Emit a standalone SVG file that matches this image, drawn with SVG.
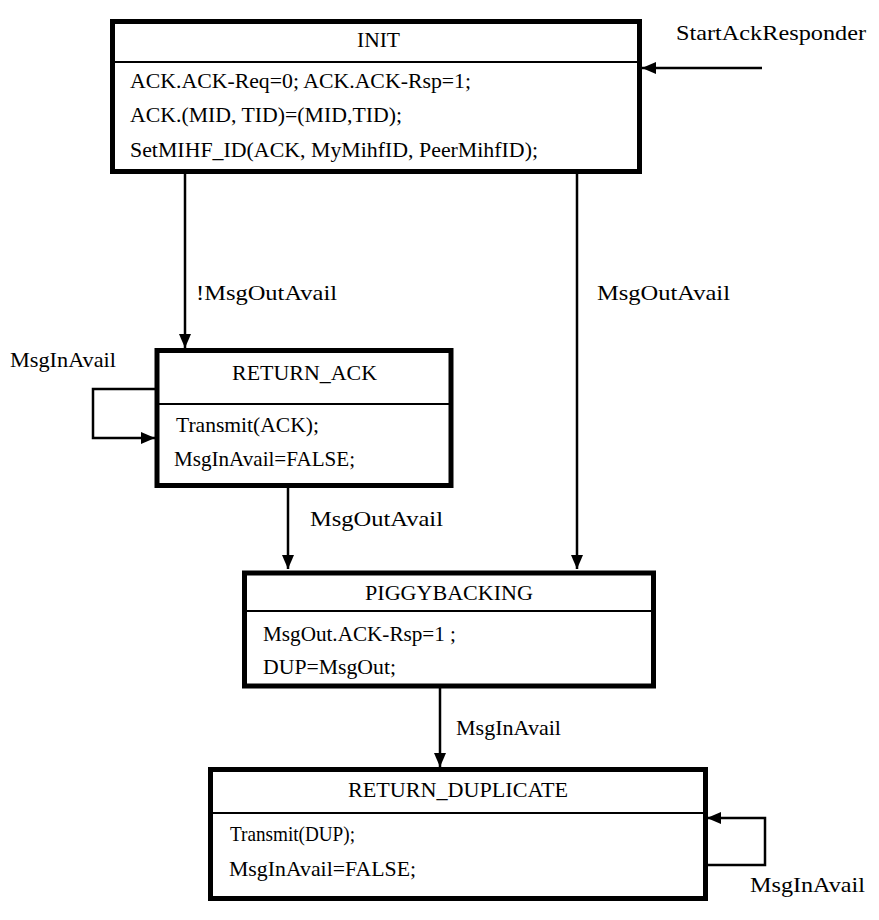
<svg xmlns="http://www.w3.org/2000/svg" width="879" height="920" viewBox="0 0 879 920" font-family="Liberation Serif, Times New Roman, DejaVu Serif, serif" font-size="21">
<defs>
<marker id="ah" markerWidth="14" markerHeight="12" refX="14" refY="6" orient="auto" markerUnits="userSpaceOnUse">
<path d="M0,0 L14,6 L0,12 Z" fill="#000"/>
</marker>
<style>
.box{fill:#fff;stroke:#000;stroke-width:5}
.div{stroke:#000;stroke-width:2}
.e{fill:none;stroke:#000;stroke-width:2.5}
</style>
</defs>
<rect width="879" height="920" fill="#fff"/>
<g id="connectors">
<path class="e" d="M762,68 H642" marker-end="url(#ah)"/>
<path class="e" d="M185,174 V348" marker-end="url(#ah)"/>
<path class="e" d="M577,174 V569" marker-end="url(#ah)"/>
<path class="e" d="M155,389 H93 V438 H155" marker-end="url(#ah)"/>
<path class="e" d="M288,488 V569" marker-end="url(#ah)"/>
<path class="e" d="M440,688 V767" marker-end="url(#ah)"/>
<path class="e" d="M707,865 H765 V818 H707" marker-end="url(#ah)"/>
<text x="676" y="40" textLength="190" lengthAdjust="spacingAndGlyphs">StartAckResponder</text>
<text x="196" y="300" textLength="141" lengthAdjust="spacingAndGlyphs">!MsgOutAvail</text>
<text x="597" y="300" textLength="133" lengthAdjust="spacingAndGlyphs">MsgOutAvail</text>
<text x="10" y="367" textLength="106" lengthAdjust="spacingAndGlyphs">MsgInAvail</text>
<text x="310" y="526" textLength="133" lengthAdjust="spacingAndGlyphs">MsgOutAvail</text>
<text x="456" y="735" textLength="105" lengthAdjust="spacingAndGlyphs">MsgInAvail</text>
<text x="750" y="892" textLength="115" lengthAdjust="spacingAndGlyphs">MsgInAvail</text>
</g>
<g id="INIT">
<rect class="box" x="112.5" y="21.5" width="527" height="150"/>
<line class="div" x1="112" y1="62" x2="640" y2="62"/>
<text x="357" y="47" textLength="43" lengthAdjust="spacingAndGlyphs">INIT</text>
<text x="130" y="88" textLength="341" lengthAdjust="spacingAndGlyphs">ACK.ACK-Req=0; ACK.ACK-Rsp=1;</text>
<text x="130" y="122" textLength="272" lengthAdjust="spacingAndGlyphs">ACK.(MID, TID)=(MID,TID);</text>
<text x="130" y="157" textLength="408" lengthAdjust="spacingAndGlyphs">SetMIHF_ID(ACK, MyMihfID, PeerMihfID);</text>
</g>
<g id="RETURN_ACK">
<rect class="box" x="157" y="350.5" width="294" height="135"/>
<line class="div" x1="157" y1="404" x2="451" y2="404"/>
<text x="232" y="380" textLength="145" lengthAdjust="spacingAndGlyphs">RETURN_ACK</text>
<text x="176" y="432" textLength="143" lengthAdjust="spacingAndGlyphs">Transmit(ACK);</text>
<text x="174" y="466" textLength="181" lengthAdjust="spacingAndGlyphs">MsgInAvail=FALSE;</text>
</g>
<g id="PIGGYBACKING">
<rect class="box" x="244.5" y="573" width="409" height="113"/>
<line class="div" x1="244" y1="611" x2="654" y2="611"/>
<text x="365" y="600" textLength="168" lengthAdjust="spacingAndGlyphs">PIGGYBACKING</text>
<text x="263" y="641" textLength="193" lengthAdjust="spacingAndGlyphs">MsgOut.ACK-Rsp=1 ;</text>
<text x="263" y="674" textLength="133" lengthAdjust="spacingAndGlyphs">DUP=MsgOut;</text>
</g>
<g id="RETURN_DUPLICATE">
<rect class="box" x="210.5" y="769.5" width="495" height="129"/>
<line class="div" x1="210" y1="813" x2="706" y2="813"/>
<text x="348" y="797" textLength="220" lengthAdjust="spacingAndGlyphs">RETURN_DUPLICATE</text>
<text x="230" y="841" textLength="125" lengthAdjust="spacingAndGlyphs">Transmit(DUP);</text>
<text x="229" y="876" textLength="187" lengthAdjust="spacingAndGlyphs">MsgInAvail=FALSE;</text>
</g>
</svg>
